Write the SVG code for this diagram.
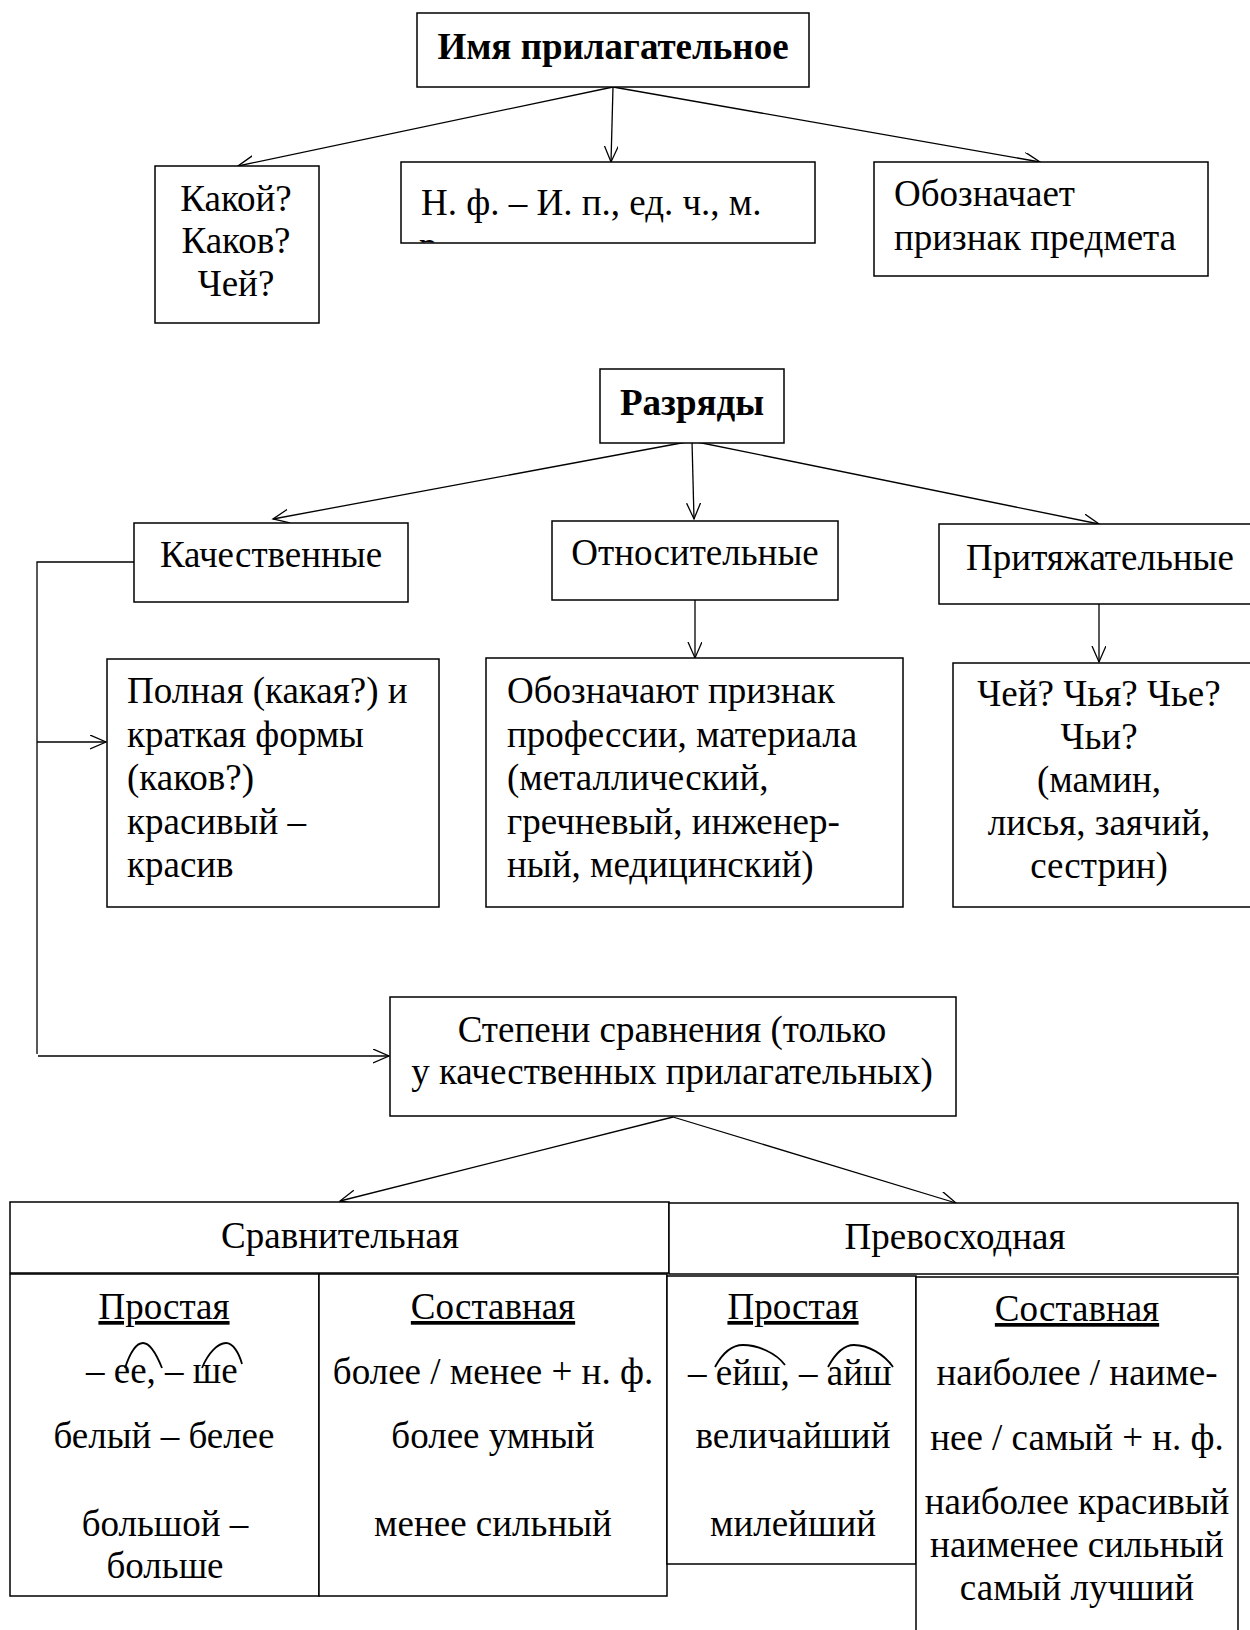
<svg xmlns="http://www.w3.org/2000/svg" width="1250" height="1630" viewBox="0 0 1250 1630">
<style>
  text { font-family: "Liberation Serif", "Times New Roman", serif; font-size: 37px; fill: #000; }
  .b { font-weight: bold; }
  .c { text-anchor: middle; }
  .u { text-decoration: underline; }
  .box { fill: #fff; stroke: #000; stroke-width: 1.5; }
  .conn { fill: none; stroke: #000; stroke-width: 1.3; }
  .arc { fill: none; stroke: #000; stroke-width: 1.8; }
</style>
<defs>
  <marker id="ah" markerUnits="userSpaceOnUse" markerWidth="18" markerHeight="16" refX="16" refY="7" orient="auto">
    <path d="M0,0 L16,7 L0,14" fill="none" stroke="#000" stroke-width="1.3"/>
  </marker>
  <clipPath id="clipNf"><rect x="402" y="162" width="414" height="80.5"/></clipPath>
</defs>
<rect width="1250" height="1630" fill="#fff"/>

<g id="connectors">
  <path class="conn" d="M613,87 L238,166" marker-end="url(#ah)"/>
  <path class="conn" d="M613,87 L611,162" marker-end="url(#ah)"/>
  <path class="conn" d="M613,87 L1040,162" marker-end="url(#ah)"/>
  <path class="conn" d="M692,441 L273,519" marker-end="url(#ah)"/>
  <path class="conn" d="M692,441 L694,519" marker-end="url(#ah)"/>
  <path class="conn" d="M692,441 L1099,524" marker-end="url(#ah)"/>
  <path class="conn" d="M695,600 L695,658" marker-end="url(#ah)"/>
  <path class="conn" d="M1099,604 L1099,662" marker-end="url(#ah)"/>
  <path class="conn" d="M134,562 L37,562 L37,1054"/>
  <path class="conn" d="M37,742 L106,742" marker-end="url(#ah)"/>
  <path class="conn" d="M38,1056 L389,1056" marker-end="url(#ah)"/>
  <path class="conn" d="M673,1117 L340,1201" marker-end="url(#ah)"/>
  <path class="conn" d="M673,1117 L956,1203" marker-end="url(#ah)"/>
</g>

<g id="n-title">
  <rect class="box" x="417" y="13" width="392" height="74"/>
  <text class="b c" x="613" y="59">Имя прилагательное</text>
</g>

<g id="n-questions">
  <rect class="box" x="155" y="166" width="164" height="157"/>
  <text class="c" x="236" y="211">Какой?</text>
  <text class="c" x="236" y="253">Каков?</text>
  <text class="c" x="236" y="296">Чей?</text>
</g>

<g id="n-nf">
  <rect class="box" x="401" y="162" width="414" height="81"/>
  <text x="421" y="215">Н. ф. – И. п., ед. ч., м.</text>
  <text x="419" y="258" clip-path="url(#clipNf)">р.</text>
</g>

<g id="n-meaning">
  <rect class="box" x="874" y="162" width="334" height="114"/>
  <text x="894" y="206">Обозначает</text>
  <text x="894" y="250">признак предмета</text>
</g>

<g id="n-razryady">
  <rect class="box" x="600" y="369" width="184" height="74"/>
  <text class="b c" x="692" y="415">Разряды</text>
</g>

<g id="n-kach">
  <rect class="box" x="134" y="523" width="274" height="79"/>
  <text class="c" x="271" y="567">Качественные</text>
</g>

<g id="n-otnos">
  <rect class="box" x="552" y="521" width="286" height="79"/>
  <text class="c" x="695" y="565">Относительные</text>
</g>

<g id="n-prityazh">
  <rect class="box" x="939" y="524" width="320" height="80"/>
  <text class="c" x="1100" y="570">Притяжательные</text>
</g>

<g id="n-kach-desc">
  <rect class="box" x="107" y="659" width="332" height="248"/>
  <text x="127" y="703">Полная (какая?) и</text>
  <text x="127" y="747">краткая формы</text>
  <text x="127" y="790">(каков?)</text>
  <text x="127" y="834">красивый –</text>
  <text x="127" y="877">красив</text>
</g>

<g id="n-otnos-desc">
  <rect class="box" x="486" y="658" width="417" height="249"/>
  <text x="507" y="703">Обозначают признак</text>
  <text x="507" y="747">профессии, материала</text>
  <text x="507" y="790">(металлический,</text>
  <text x="507" y="834">гречневый, инженер-</text>
  <text x="507" y="877">ный, медицинский)</text>
</g>

<g id="n-prityazh-desc">
  <rect class="box" x="953" y="663" width="306" height="244"/>
  <text class="c" x="1099" y="706">Чей? Чья? Чье?</text>
  <text class="c" x="1099" y="749">Чьи?</text>
  <text class="c" x="1099" y="792">(мамин,</text>
  <text class="c" x="1099" y="835">лисья, заячий,</text>
  <text class="c" x="1099" y="878">сестрин)</text>
</g>

<g id="n-stepeni">
  <rect class="box" x="390" y="997" width="566" height="119"/>
  <text class="c" x="672" y="1042">Степени сравнения (только</text>
  <text class="c" x="672" y="1084">у качественных прилагательных)</text>
</g>

<g id="n-sravn">
  <rect class="box" x="10" y="1202" width="659" height="71"/>
  <text class="c" x="340" y="1248">Сравнительная</text>
</g>

<g id="n-sravn-prost">
  <rect class="box" x="10" y="1274" width="309" height="322"/>
  <text class="c u" x="164" y="1319">Простая</text>
  <text x="86" y="1383">– ее, – ше</text>
  <path class="arc" d="M125,1368 C130,1353 136,1343 143,1343 C150,1343 156,1353 162,1368"/>
  <path class="arc" d="M202,1368 C208,1353 218,1343 226,1343 C233,1343 239,1353 242,1364"/>
  <text class="c" x="164" y="1448">белый – белее</text>
  <text class="c" x="165" y="1536">большой –</text>
  <text class="c" x="165" y="1578">больше</text>
</g>

<g id="n-sravn-sost">
  <rect class="box" x="319" y="1274" width="348" height="322"/>
  <text class="c u" x="493" y="1319">Составная</text>
  <text class="c" x="493" y="1384">более / менее + н. ф.</text>
  <text class="c" x="493" y="1448">более умный</text>
  <text class="c" x="493" y="1536">менее сильный</text>
</g>

<g id="n-prevos">
  <rect class="box" x="669" y="1203" width="569" height="71"/>
  <text class="c" x="955" y="1249">Превосходная</text>
</g>

<g id="n-prevos-prost">
  <rect class="box" x="667" y="1276" width="249" height="288"/>
  <text class="c u" x="793" y="1319">Простая</text>
  <text x="688" y="1385">– ейш, – айш</text>
  <path class="arc" d="M715,1367 C722,1354 732,1345 743,1345 C758,1345 776,1353 785,1365"/>
  <path class="arc" d="M828,1367 C835,1354 844,1345 854,1345 C868,1345 884,1354 893,1367"/>
  <text class="c" x="793" y="1448">величайший</text>
  <text class="c" x="793" y="1536">милейший</text>
</g>

<g id="n-prevos-sost">
  <rect class="box" x="916" y="1277" width="322" height="370"/>
  <text class="c u" x="1077" y="1321">Составная</text>
  <text class="c" x="1077" y="1385">наиболее / наиме-</text>
  <text class="c" x="1077" y="1450">нее / самый + н. ф.</text>
  <text class="c" x="1077" y="1514">наиболее красивый</text>
  <text class="c" x="1077" y="1557">наименее сильный</text>
  <text class="c" x="1077" y="1600">самый лучший</text>
</g>
</svg>
